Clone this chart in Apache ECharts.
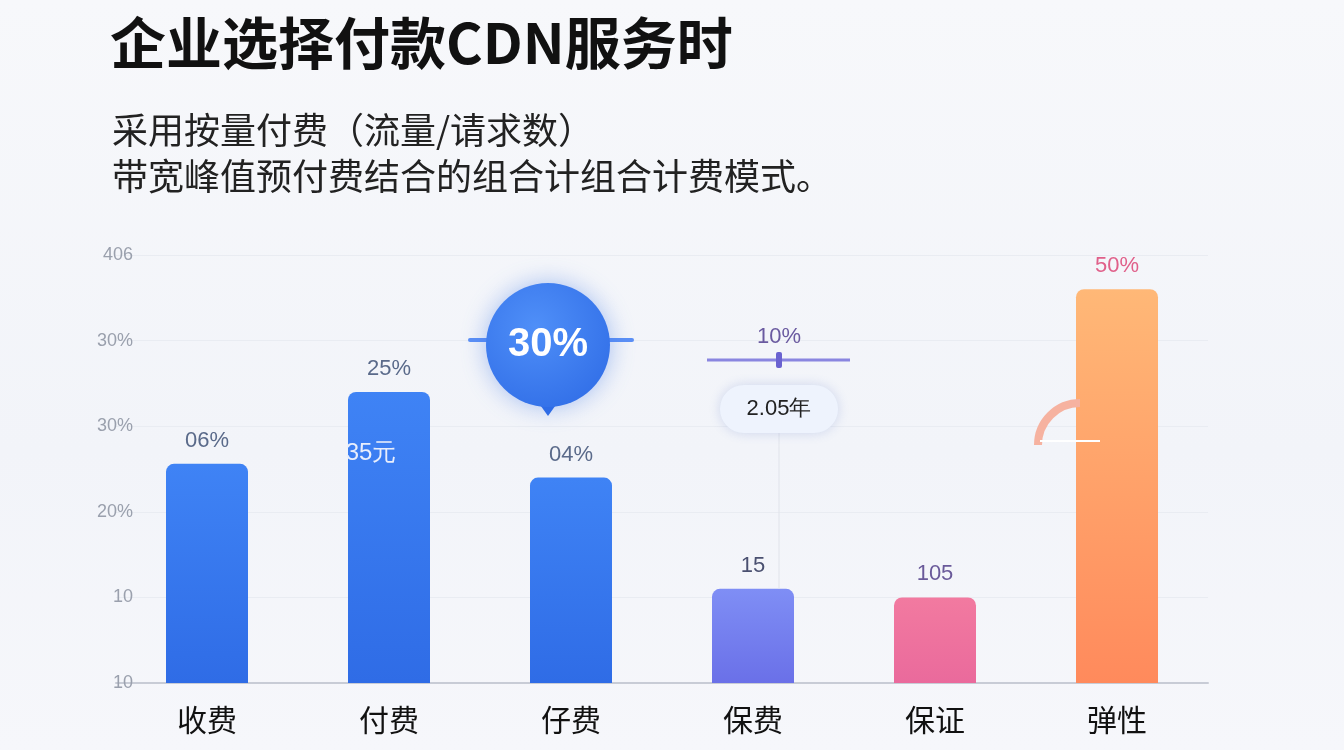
<!DOCTYPE html>
<html><head><meta charset="utf-8">
<script src="https://cdn.jsdelivr.net/npm/echarts@6/dist/echarts.min.js"></script>
<style>html,body{margin:0;padding:0;}#c{width:1344px;height:750px;background:linear-gradient(180deg,#f7f8fb 0%,#f2f4f9 60%,#f6f7fb 100%);}</style>
</head><body><div id="c"></div>
<script>
const categories = ['收费','付费','仔费','保费','保证','弹性'];
const values = [25.6, 34, 24, 11, 10, 46];
const barLabels = ['06%','25%','04%','15','105','50%'];
const tickLabels = ['10','10','20%','30%','30%','406'];
const title = '企业选择付款CDN服务时';
const subtitle = ['采用按量付费（流量/请求数）','带宽峰值预付费结合的组合计组合计费模式。'];

const grad = (a,b)=>new echarts.graphic.LinearGradient(0,0,0,1,[{offset:0,color:a},{offset:1,color:b}]);
const barColors = [grad('#3f83f5','#2f6ce6'),grad('#3f83f5','#2f6ce6'),grad('#3f83f5','#2f6ce6'),grad('#7f8ef5','#6a70e8'),grad('#f27aa0','#ea6a9c'),grad('#ffb877','#ff8a5c')];
const labelColors = ['#5a6a8a','#5a6a8a','#5a6a8a','#4a5070','#6a5a9a','#e0608a'];

const chart = echarts.init(document.getElementById('c'));
chart.setOption({
  animation:false,
  title:[
    {text:title,left:105,top:10,textStyle:{fontSize:56,fontWeight:'bold',color:'#111',fontFamily:'Noto Sans CJK SC'}},
    {text:subtitle.join('\n'),left:107,top:102,textStyle:{fontSize:36,fontWeight:'normal',color:'#222',lineHeight:46,fontFamily:'Noto Sans CJK SC'}}
  ],
  grid:{left:116,right:136,top:255,bottom:67},
  xAxis:{type:'category',data:categories,axisTick:{show:false},
    axisLine:{lineStyle:{color:'#c8ccd6',width:2}},
    axisLabel:{fontSize:30,color:'#111',margin:22,fontFamily:'Noto Sans CJK SC'}},
  yAxis:{type:'value',min:0,max:50,interval:10,offset:-25,
    splitLine:{lineStyle:{color:'#e9ecf2'}},
    axisLabel:{fontSize:18,color:'#9aa0ad',formatter:v=>tickLabels[Math.round(v/10)]}},
  series:[{type:'bar',barWidth:82,
    data:values.map((v,i)=>({value:v,itemStyle:{color:barColors[i],borderRadius:[8,8,0,0]},
      label:{show:true,position:'top',distance:12,formatter:barLabels[i],fontSize:22,color:labelColors[i]}}))}],
  graphic:[
    {type:'line',z:100,shape:{x1:470,y1:340,x2:632,y2:340},style:{stroke:'#5b8ff5',lineWidth:4,lineCap:'round'}},
    {type:'polygon',z:101,shape:{points:[[538,402],[558,402],[548,416]]},style:{fill:'#2f6ce6'}},
    {type:'circle',z:102,shape:{cx:548,cy:345,r:62},style:{fill:new echarts.graphic.RadialGradient(0.4,0.35,0.8,[{offset:0,color:'#4f8ff8'},{offset:1,color:'#2f6ce6'}]),shadowBlur:25,shadowColor:'rgba(47,108,230,0.4)'}},
    {type:'text',z:103,x:548,y:345,style:{text:'30%',fontSize:40,fontWeight:'bold',fill:'#fff',align:'center',verticalAlign:'middle'}},
    {type:'text',z:103,x:371,y:453,style:{text:'35元',fontSize:24,fill:'#e8eefc',align:'center',verticalAlign:'middle'}},
    {type:'text',z:103,x:779,y:337,style:{text:'10%',fontSize:22,fill:'#6a5aa0',align:'center',verticalAlign:'middle'}},
    {type:'line',z:100,shape:{x1:707,y1:360,x2:850,y2:360},style:{stroke:'#8a86e0',lineWidth:3}},
    {type:'rect',z:101,shape:{x:776,y:352,width:6,height:16,r:2},style:{fill:'#6a62d0'}},
    {type:'line',z:99,shape:{x1:779,y1:433,x2:779,y2:589},style:{stroke:'#e0e3ea',lineWidth:1}},
    {type:'rect',z:101,shape:{x:720,y:385,width:118,height:48,r:24},style:{fill:'#eef3fd',shadowBlur:12,shadowColor:'rgba(90,120,200,0.25)'}},
    {type:'text',z:102,x:779,y:409,style:{text:'2.05年',fontSize:22,fill:'#222',align:'center',verticalAlign:'middle'}},
    {type:'arc',z:100,shape:{cx:1080,cy:445,r:42,startAngle:Math.PI,endAngle:Math.PI*1.5},style:{stroke:'#f6b2a0',lineWidth:8,fill:'none'}},
    {type:'line',z:101,shape:{x1:1040,y1:441,x2:1100,y2:441},style:{stroke:'#ffffff',lineWidth:2}}
  ]
});
</script></body></html>
